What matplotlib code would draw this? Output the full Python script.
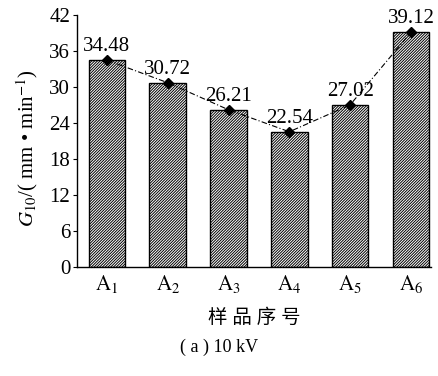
import matplotlib
matplotlib.use("Agg")
import matplotlib.pyplot as plt
import numpy as np

plt.rcParams['font.family'] = ['Liberation Serif', 'Noto Sans CJK SC']
plt.rcParams['mathtext.fontset'] = 'stix'
plt.rcParams['hatch.linewidth'] = 0.7

samples = ['$\\mathrm{A_1}$', '$\\mathrm{A_2}$', '$\\mathrm{A_3}$',
           '$\\mathrm{A_4}$', '$\\mathrm{A_5}$', '$\\mathrm{A_6}$']
g10 = [34.48, 30.72, 26.21, 22.54, 27.02, 39.12]
yticks = [0, 6, 12, 18, 24, 30, 36, 42]

fig = plt.figure(figsize=(4.38, 3.76), dpi=100)
ax = fig.add_axes([0.176, 0.290, 0.808, 0.670])

x = np.arange(len(g10))
ax.bar(x, g10, width=0.6, color='white', edgecolor='black',
       linewidth=1.0, hatch='////////////', zorder=2)
ax.plot(x, g10, color='black', linestyle=(0, (5, 2, 1, 2)), linewidth=0.8,
        marker='D', markersize=5.5, markerfacecolor='black', zorder=3)

for xi, v in zip(x, g10):
    ax.annotate(f'{v:.2f}', (xi, v), xytext=(0, 3), textcoords='offset points',
                ha='center', va='bottom', fontsize=15, zorder=4)

ax.set_xlim(-0.49, 5.33)
ax.set_ylim(0, 42)
ax.set_yticks(yticks)
ax.set_xticks(x)
ax.set_xticklabels(samples, fontsize=15)
ax.tick_params(axis='y', direction='out', length=3, width=0.8, labelsize=15, pad=2)
ax.tick_params(axis='x', direction='in', length=3, width=0.8, pad=4)
for s in ['top', 'right']:
    ax.spines[s].set_visible(False)
for s in ['left', 'bottom']:
    ax.spines[s].set_linewidth(1.0)

ax.set_ylabel('$G_{10}$/( mm • min$^{-1}$)', fontsize=15, labelpad=7)
ax.yaxis.label.set_y(0.47)
ax.set_xlabel('样 品 序 号', fontsize=14, labelpad=10)

fig.text(0.5, 0.075, '( a ) 10 kV', ha='center', va='center', fontsize=13)

fig.savefig('out.png', dpi=100)
